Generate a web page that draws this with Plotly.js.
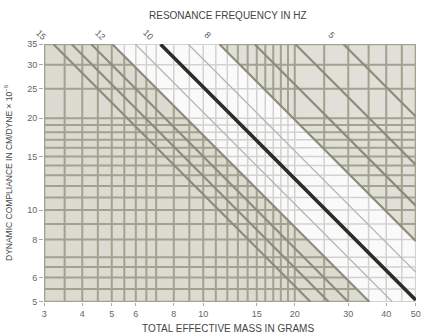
<!DOCTYPE html>
<html>
<head>
<meta charset="utf-8">
<script src="https://cdn.plot.ly/plotly-3.0.1.min.js"></script>
<style>html,body{margin:0;padding:0;background:#fff;}#chart{width:421px;height:334px;}</style>
</head>
<body>
<div id="chart"></div>
<script>
// Axis labels
const massTicks = [3, 4, 5, 6, 8, 10, 15, 20, 30, 40, 50];
const complianceTicks = [5, 6, 8, 10, 15, 20, 25, 30, 35];
// Grid lines of the chart paper
const massGrid = [3, 3.5, 4, 4.5, 5, 5.5, 6, 6.5, 7, 8, 9, 10, 11, 12, 13, 14, 15, 16, 17, 18, 19, 20, 25, 30, 35, 40, 45, 50];
const complianceGrid = [5, 5.5, 6, 6.5, 7, 8, 9, 10, 11, 12, 13, 14, 15, 16, 17, 18, 19, 20, 25, 30, 35];
// Resonance-frequency lines (Hz)
const freqLines = [15, 14, 13, 12, 11, 10, 9, 8, 7, 6, 5];
const freqLabels = [15, 12, 10, 8, 5];
const boldFreq = 10;
const bandHigh = 12;   // white band upper frequency
const bandLow = 8;     // white band lower frequency

const M_MIN = 3, M_MAX = 50, C_MIN = 5, C_MAX = 35;
const L = Math.log10;
// f = 1 / (2*pi*sqrt(M * C*1e-6))  ->  M*C = (1000/(2*pi*f))^2
function prod(f) { const v = 1000 / (2 * Math.PI * f); return v * v; }
function segment(f) {
  const k = prod(f);
  const m0 = Math.max(M_MIN, k / C_MAX), m1 = Math.min(M_MAX, k / C_MIN);
  return { x: [m0, m1], y: [k / m0, k / m1] };
}

const traces = [];
// shaded regions
const kH = prod(bandHigh), kL = prod(bandLow);
traces.push({ x: [M_MIN, kH / C_MAX, kH / C_MIN, M_MIN, M_MIN], y: [C_MAX, C_MAX, C_MIN, C_MIN, C_MAX],
  mode: 'lines', fill: 'toself', fillcolor: '#dbdbd1', line: { width: 0 }, hoverinfo: 'skip' });
traces.push({ x: [kL / C_MAX, M_MAX, M_MAX, kL / C_MAX], y: [C_MAX, C_MAX, kL / M_MAX, C_MAX],
  mode: 'lines', fill: 'toself', fillcolor: '#e0e0d9', line: { width: 0 }, hoverinfo: 'skip' });

// light grid everywhere
let gx = [], gy = [];
massGrid.forEach(m => { gx.push(m, m, null); gy.push(C_MIN, C_MAX, null); });
complianceGrid.forEach(c => { gx.push(M_MIN, M_MAX, null); gy.push(c, c, null); });
traces.push({ x: gx, y: gy, mode: 'lines', line: { color: '#d2d2cf', width: 1.5 }, hoverinfo: 'skip', connectgaps: false });

// dark grid in shaded regions
let dx = [], dy = [];
massGrid.forEach(m => {
  const cTop = Math.min(C_MAX, kH / m);
  if (cTop > C_MIN) { dx.push(m, m, null); dy.push(C_MIN, cTop, null); }
  const cBot = Math.max(C_MIN, kL / m);
  if (cBot < C_MAX) { dx.push(m, m, null); dy.push(cBot, C_MAX, null); }
});
complianceGrid.forEach(c => {
  const mR = Math.min(M_MAX, kH / c);
  if (mR > M_MIN) { dx.push(M_MIN, mR, null); dy.push(c, c, null); }
  const mL = Math.max(M_MIN, kL / c);
  if (mL < M_MAX) { dx.push(mL, M_MAX, null); dy.push(c, c, null); }
});
traces.push({ x: dx, y: dy, mode: 'lines', line: { color: '#a2a28f', width: 2 }, hoverinfo: 'skip', connectgaps: false });

// frequency lines
freqLines.forEach(f => {
  if (f === boldFreq) return;
  const s = segment(f);
  const inBand = f < bandHigh && f > bandLow;
  traces.push({ x: s.x, y: s.y, mode: 'lines', hoverinfo: 'skip',
    line: inBand ? { color: '#b4b4b4', width: 1.3 } : { color: '#8c8c7c', width: 2.2 } });
});
const sb = segment(boldFreq);
traces.push({ x: sb.x, y: sb.y, mode: 'lines', hoverinfo: 'skip', line: { color: '#2c2c28', width: 3.6 } });

const txt = '#5a5a5a';
const FONT = 'Liberation Sans, Arial, sans-serif';
const xr = [L(M_MIN) - 0.001, L(M_MAX) + 0.001], yr = [L(C_MIN) - 0.001, L(C_MAX) + 0.001];
const px = v => (v - xr[0]) / (xr[1] - xr[0]);
const py = v => (v - yr[0]) / (yr[1] - yr[0]);
const annotations = [];
freqLabels.forEach(f => {
  const k = prod(f);
  const lm = L(k / C_MAX) - 0.04, lc = L(C_MAX) + 0.03;
  annotations.push({ x: px(lm), y: py(lc), xref: 'paper', yref: 'paper', xanchor: 'center', yanchor: 'middle',
    text: String(f), showarrow: false, textangle: 45, font: { size: 9, color: txt, family: FONT } });
});
annotations.push({ x: (228 - 44) / 372, y: 1 + (44 - 15) / 258, xref: 'paper', yref: 'paper', xanchor: 'center', yanchor: 'middle',
  text: 'RESONANCE FREQUENCY IN HZ', showarrow: false, font: { size: 10, color: '#444', family: FONT } });
annotations.push({ x: (228 - 44) / 372, y: -(328 - 302) / 258, xref: 'paper', yref: 'paper', xanchor: 'center', yanchor: 'middle',
  text: 'TOTAL EFFECTIVE MASS IN GRAMS', showarrow: false, font: { size: 10, color: '#444', family: FONT } });
annotations.push({ x: (8 - 44) / 372, y: (302 - 173) / 258, xref: 'paper', yref: 'paper', xanchor: 'center', yanchor: 'middle',
  textangle: -90, text: 'DYNAMIC COMPLIANCE IN CM/DYNE × 10<sup>−6</sup>',
  showarrow: false, font: { size: 8.5, color: '#444', family: FONT } });

const layout = {
  width: 421, height: 334,
  margin: { l: 44, r: 5, t: 44, b: 32 },
  paper_bgcolor: '#ffffff', plot_bgcolor: '#fafafa',
  showlegend: false,
  font: { family: FONT, color: '#666', size: 9 },
  xaxis: { type: 'log', range: xr, tickvals: massTicks, ticktext: massTicks.map(String),
    showgrid: false, zeroline: false, showline: false, ticks: 'outside', ticklen: 3, tickcolor: '#aaa',
    tickfont: { size: 9, color: '#666' } },
  yaxis: { type: 'log', range: yr, tickvals: complianceTicks, ticktext: complianceTicks.map(String),
    showgrid: false, zeroline: false, showline: false, ticks: 'outside', ticklen: 4, tickcolor: '#aaa',
    tickfont: { size: 9, color: '#666' } },
  annotations: annotations
};
Plotly.newPlot('chart', traces, layout, { staticPlot: true, displayModeBar: false });
</script>
</body>
</html>
